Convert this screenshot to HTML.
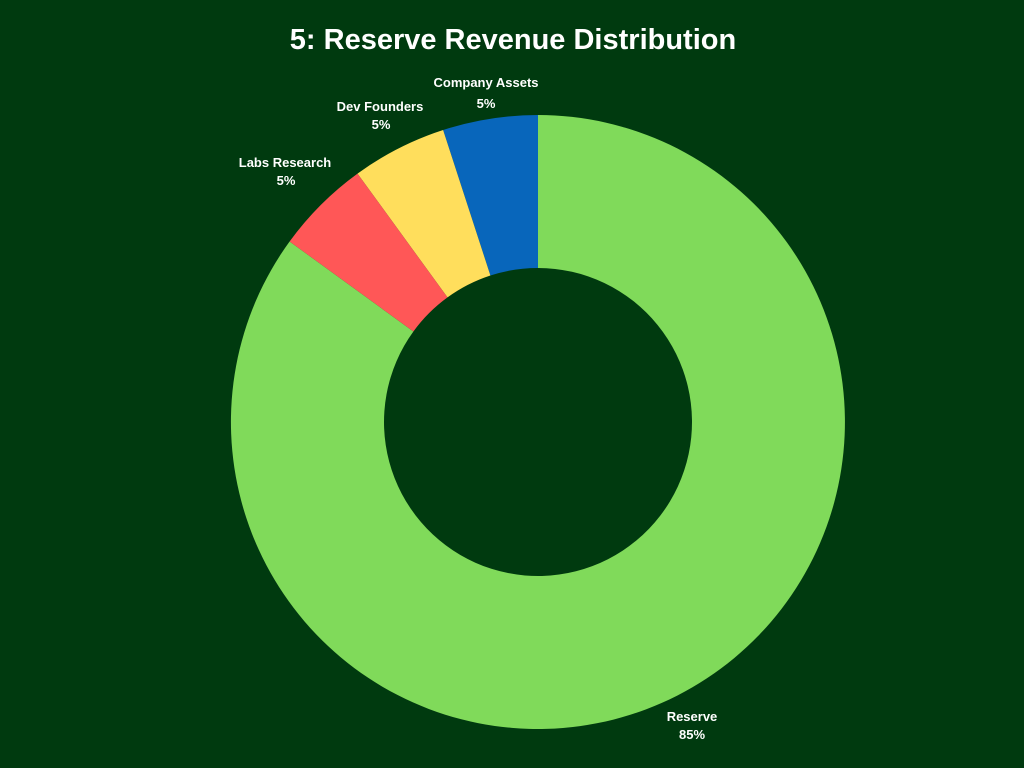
<!DOCTYPE html>
<html><head><meta charset="utf-8"><style>
html,body{margin:0;padding:0;background:#003a0f;}
svg{display:block;}
text{font-family:"Liberation Sans",sans-serif;font-weight:bold;fill:#fff;}
</style></head><body>
<svg width="1024" height="768" viewBox="0 0 1024 768">
<rect width="1024" height="768" fill="#003a0f"/>
<text x="513" y="49" text-anchor="middle" font-size="29">5: Reserve Revenue Distribution</text>
<path d="M289.6,241.5 A307,307 0 1 0 538,115 L538,268 A154,154 0 1 1 413.4,331.5 Z" fill="#80da5a"/>
<path d="M538,115 A307,307 0 0 0 443.1,130 L490.4,275.5 A154,154 0 0 1 538,268 Z" fill="#0866bb"/>
<path d="M443.1,130 A307,307 0 0 0 357.5,173.6 L447.5,297.4 A154,154 0 0 1 490.4,275.5 Z" fill="#ffde5c"/>
<path d="M357.5,173.6 A307,307 0 0 0 289.6,241.5 L413.4,331.5 A154,154 0 0 1 447.5,297.4 Z" fill="#ff5757"/>
<g font-size="13" text-anchor="middle">
<text x="486" y="87">Company Assets</text><text x="486" y="108">5%</text>
<text x="380" y="111">Dev Founders</text><text x="381" y="129">5%</text>
<text x="285" y="167">Labs Research</text><text x="286" y="185">5%</text>
<text x="692" y="721">Reserve</text><text x="692" y="739">85%</text>
</g>
</svg>
</body></html>
